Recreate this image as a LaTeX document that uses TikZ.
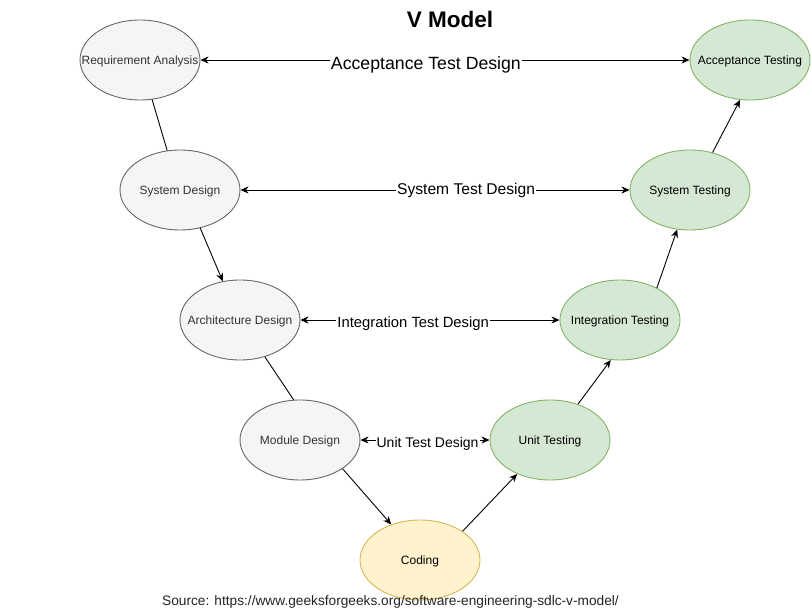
\documentclass[tikz,border=0pt]{standalone}
\usepackage{fontspec}
\setmainfont{Liberation Sans}
\usetikzlibrary{shapes.geometric,arrows.meta}
\definecolor{greyfill}{HTML}{F5F5F5}
\definecolor{greyline}{HTML}{666666}
\definecolor{greytext}{HTML}{333333}
\definecolor{greenfill}{HTML}{D5E8D4}
\definecolor{greenline}{HTML}{82B366}
\definecolor{yellowfill}{HTML}{FFF2CC}
\definecolor{yellowline}{HTML}{D6B656}
\newcommand\zlab[1]{\makebox[0pt]{#1}}
\tikzset{
  vbox/.style={ellipse, minimum width=120pt, minimum height=80pt, inner sep=0pt,
    text height=8.6pt, text depth=0pt,
    line width=0.9pt, font=\fontsize{12}{14}\selectfont},
  greybox/.style={vbox, draw=greyline, fill=greyfill, text=greytext},
  greenbox/.style={vbox, draw=greenline, fill=greenfill, text=black},
  yellowbox/.style={vbox, draw=yellowline, fill=yellowfill, text=black},
  link/.style={line width=0.9pt, draw=black},
  tip/.tip={Stealth[length=8pt,width=7pt,inset=2.5pt]},
  arr/.style={link, -tip},
  twoway/.style={link, tip-tip},
  lab/.style={fill=white, inner xsep=1pt, inner ysep=1.5pt, anchor=base, text=black}
}
\begin{document}
\begin{tikzpicture}[x=1pt,y=-1pt]
\useasboundingbox (0,0) rectangle (812,612);

\node[font=\fontsize{22.5}{26}\selectfont\bfseries, anchor=base, inner sep=0pt] (title) at (450,27.7) {V Model};

\node[greybox] (ra) at (140,60) {\zlab{Requirement Analysis}};
\node[greybox] (sd) at (180,190) {\zlab{System Design}};
\node[greybox] (ad) at (240,320) {\zlab{Architecture Design}};
\node[greybox] (md) at (300,440) {\zlab{Module Design}};
\node[yellowbox] (co) at (420,560) {\zlab{Coding}};
\node[greenbox] (ut) at (550,440) {\zlab{Unit Testing}};
\node[greenbox] (it) at (620,320) {\zlab{Integration Testing}};
\node[greenbox] (st) at (690,190) {\zlab{System Testing}};
\node[greenbox] (at) at (750,60) {\zlab{Acceptance Testing}};

% left branch
\draw[link] (ra.-73.7) -- (sd.108);
\draw[arr] (sd.-62.9) -- (ad.114.2);
\draw[link] (ad.-56.7) -- (md.99.9);
\draw[arr] (md.-34) -- (co.129.8);
% right branch
\draw[arr] (co.34) -- (ut.-134);
\draw[arr] (ut.52) -- (it.-103.7);
\draw[arr] (it.41) -- (st.-108);
\draw[arr] (st.59.3) -- (at.-104);

% test design links
\draw[twoway] (ra.east) -- node[lab, pos=0.461, yshift=-10pt, font=\fontsize{17.7}{20}\selectfont] (l1) {Acceptance Test Design} (at.west);
\draw[twoway] (sd.east) -- node[lab, pos=0.58, yshift=-5pt, font=\fontsize{15.6}{18}\selectfont] (l2) {System Test Design} (st.west);
\draw[twoway] (ad.east) -- node[lab, pos=0.435, yshift=-7.5pt, font=\fontsize{14.8}{17}\selectfont] (l3) {Integration Test Design} (it.west);
\draw[twoway] (md.east) -- node[lab, pos=0.52, yshift=-7.5pt, font=\fontsize{14}{16}\selectfont] (l4) {Unit Test Design} (ut.west);

\node[anchor=base, inner sep=0pt, font=\fontsize{13.7}{16}\selectfont, text=greytext!70!black] (src) at (390.5,605.7) {Source: https://www.geeksforgeeks.org/software-engineering-sdlc-v-model/};
\end{tikzpicture}
\end{document}
